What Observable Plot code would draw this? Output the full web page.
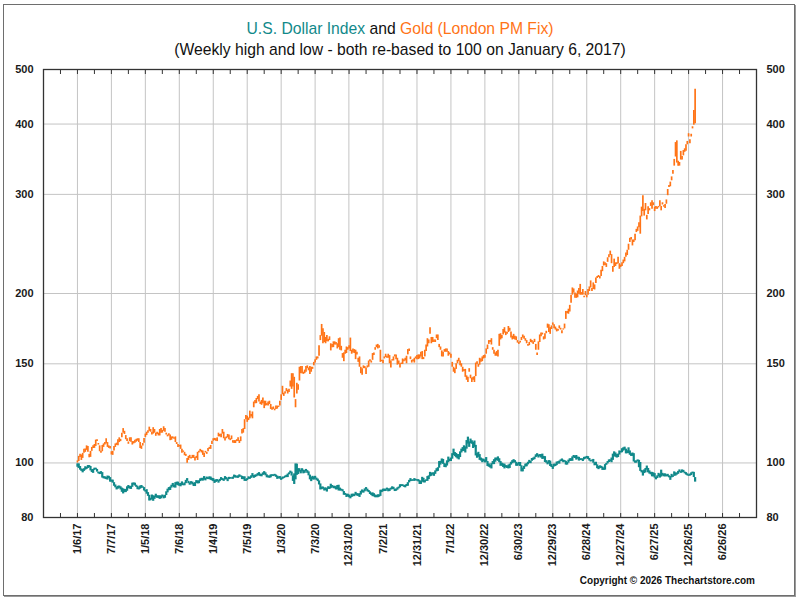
<!DOCTYPE html>
<html>
<head>
<meta charset="utf-8">
<script src="https://cdn.jsdelivr.net/npm/d3@7"></script>
<script src="https://cdn.jsdelivr.net/npm/@observablehq/plot@0.6"></script>
<style>
  html, body { margin: 0; padding: 0; background: #fff; }
  #wrap { position: relative; width: 800px; height: 600px; overflow: hidden; font-family: "Liberation Sans Narrow", "Arial Narrow", "Liberation Sans", Arial, sans-serif; }
  #border { position: absolute; left: 3px; top: 4px; width: 790px; height: 590px; border: 1px solid #6e6e6e; box-shadow: 1px 1px 0 #9a9a9a; }
  .ttl { position: absolute; left: 0; width: 800px; text-align: center; font-size: 15.7px; line-height: 18px; color: #111; white-space: nowrap; }
  #copy { position: absolute; right: 45px; top: 575px; font-size: 10px; line-height: 12px; font-weight: bold; color: #111; white-space: nowrap; }
  #chart { position: absolute; left: 0; top: 0; }
</style>
</head>
<body>
<div id="wrap">
  <div id="border"></div>
  <div id="chart"></div>
  <div class="ttl" id="t1" style="top:20px"></div>
  <div class="ttl" id="t2" style="top:41px"></div>
  <div id="copy"></div>
</div>
<script>
// ---- Text ----
const titleDollar = "U.S. Dollar Index";
const titleAnd = " and ";
const titleGold = "Gold (London PM Fix)";
const subtitle = "(Weekly high and low - both re-based to 100 on January 6, 2017)";
const copyright = "Copyright \u00A9 2026 Thechartstore.com";

// ---- Colours ----
const dollarColor = "#11898a";
const goldColor = "#ff7417";

// ---- Bases used for re-basing (value on January 6, 2017 = 100) ----
const goldBase = 1173;
const dollarBase = 103.3;

// ---- Axis ticks ----
const xTickLabels = ["1/6/17","7/7/17","1/5/18","7/6/18","1/4/19","7/5/19","1/3/20","7/3/20","12/31/20","7/2/21","12/31/21","7/1/22","12/30/22","6/30/23","12/29/23","6/28/24","12/27/24","6/27/25","12/26/25","6/26/26"];
const yTicks = [80, 100, 150, 200, 300, 400, 500];
const yGrid = [100, 150, 200, 300, 400];

// ---- Gold, London PM fix, weekly low/high pairs (USD), weeks ending Fridays ----
const gold2017 = [1173,1183, 1180,1205, 1200,1215, 1185,1212, 1195,1220, 1220,1240, 1225,1242, 1235,1258, 1225,1255, 1198,1215, 1200,1230, 1230,1250, 1245,1258, 1245,1265, 1255,1288, 1280,1290, 1262,1270, 1228,1258, 1220,1230, 1228,1260, 1250,1268, 1262,1275, 1268,1295, 1250,1275, 1245,1258, 1242,1255, 1212,1228, 1210,1230, 1232,1255, 1250,1268, 1260,1272, 1258,1290, 1275,1300, 1280,1292, 1300,1325, 1325,1350, 1318,1335, 1290,1312, 1280,1295, 1266,1278, 1280,1300, 1276,1300, 1262,1280, 1268,1280, 1272,1287, 1277,1292, 1282,1295, 1275,1295, 1245,1275, 1240,1257, 1257,1270, 1272,1297];
const gold2018 = [1302,1320, 1312,1330, 1325,1338, 1335,1358, 1330,1345, 1315,1330, 1320,1355, 1325,1345, 1308,1325, 1318,1330, 1310,1325, 1310,1345, 1325,1350, 1325,1340, 1335,1360, 1330,1350, 1315,1325, 1305,1315, 1310,1322, 1285,1315, 1287,1305, 1295,1305, 1292,1300, 1275,1305, 1265,1275, 1250,1265, 1252,1260, 1240,1262, 1220,1240, 1225,1232, 1208,1225, 1205,1215, 1172,1195, 1185,1205, 1195,1210, 1192,1200, 1195,1210, 1195,1210, 1182,1200, 1195,1205, 1185,1225, 1222,1230, 1228,1240, 1222,1235, 1210,1232, 1200,1220, 1222,1230, 1215,1225, 1228,1245, 1240,1250, 1240,1260, 1265,1282];
const gold2019 = [1282,1295, 1285,1297, 1282,1295, 1280,1300, 1305,1325, 1305,1318, 1300,1320, 1320,1345, 1295,1330, 1283,1300, 1295,1305, 1300,1318, 1290,1315, 1285,1295, 1290,1310, 1272,1285, 1270,1285, 1270,1285, 1280,1290, 1280,1300, 1270,1285, 1280,1305, 1320,1345, 1325,1350, 1345,1400, 1400,1425, 1385,1420, 1395,1410, 1405,1450, 1415,1430, 1405,1445, 1470,1505, 1495,1515, 1495,1527, 1520,1540, 1505,1550, 1490,1505, 1485,1515, 1495,1530, 1465,1510, 1480,1510, 1483,1495, 1480,1505, 1490,1510, 1460,1490, 1455,1470, 1460,1475, 1452,1462, 1460,1480, 1462,1480, 1472,1480, 1480,1510];
const gold2020 = [1515,1550, 1550,1605, 1540,1560, 1555,1570, 1570,1590, 1555,1580, 1565,1585, 1600,1640, 1585,1690, 1600,1690, 1530,1665, 1470,1520, 1555,1625, 1580,1615, 1640,1735, 1690,1740, 1690,1740, 1685,1700, 1690,1715, 1700,1740, 1725,1745, 1710,1730, 1685,1740, 1700,1735, 1720,1735, 1745,1770, 1765,1790, 1785,1810, 1795,1810, 1815,1895, 1935,1975, 1970,2067, 1910,2030, 1920,2000, 1910,1960, 1925,1975, 1925,1945, 1935,1965, 1855,1910, 1880,1905, 1880,1925, 1900,1925, 1900,1920, 1870,1910, 1880,1950, 1860,1955, 1855,1890, 1800,1835, 1775,1840, 1830,1860, 1835,1885, 1860,1880];
const gold2021 = [1870,1895, 1850,1955, 1830,1860, 1840,1870, 1835,1865, 1790,1860, 1825,1845, 1770,1800, 1735,1810, 1690,1735, 1680,1725, 1725,1745, 1725,1740, 1685,1730, 1730,1745, 1735,1780, 1775,1790, 1765,1780, 1785,1835, 1820,1840, 1860,1880, 1880,1900, 1870,1905, 1875,1895, 1770,1860, 1775,1785, 1760,1785, 1795,1810, 1805,1830, 1800,1815, 1800,1830, 1760,1820, 1730,1780, 1780,1790, 1780,1810, 1810,1825, 1790,1825, 1750,1800, 1755,1780, 1730,1760, 1755,1765, 1755,1795, 1775,1790, 1780,1800, 1760,1815, 1825,1865, 1850,1870, 1790,1810, 1765,1785, 1775,1790, 1765,1800, 1795,1810, 1790,1820];
const gold2022 = [1790,1825, 1795,1825, 1810,1845, 1790,1850, 1790,1805, 1810,1860, 1850,1900, 1885,1950, 1910,1940, 1985,2040, 1910,1960, 1920,1960, 1920,1940, 1920,1940, 1950,1980, 1935,1980, 1880,1905, 1860,1885, 1810,1855, 1810,1845, 1845,1865, 1845,1870, 1845,1870, 1815,1850, 1825,1840, 1800,1830, 1735,1770, 1700,1735, 1690,1725, 1720,1760, 1760,1785, 1775,1800, 1745,1780, 1735,1760, 1700,1735, 1705,1720, 1665,1720, 1645,1675, 1630,1665, 1700,1725, 1655,1680, 1630,1660, 1645,1665, 1630,1670, 1670,1765, 1755,1775, 1735,1755, 1750,1800, 1770,1795, 1775,1810, 1795,1820, 1800,1825];
const gold2023 = [1830,1870, 1865,1900, 1905,1935, 1920,1935, 1900,1950, 1860,1880, 1830,1860, 1815,1840, 1815,1850, 1810,1860, 1890,1985, 1940,1990, 1950,1975, 1980,2025, 1995,2040, 1975,2005, 1985,2000, 2000,2050, 2010,2035, 1955,2005, 1940,1970, 1945,1985, 1940,1970, 1935,1965, 1915,1935, 1905,1920, 1915,1930, 1935,1960, 1955,1980, 1945,1970, 1930,1950, 1910,1935, 1890,1905, 1895,1920, 1920,1945, 1915,1935, 1905,1925, 1920,1945, 1860,1905, 1820,1840, 1860,1925, 1920,1980, 1965,1995, 1980,1995, 1940,1965, 1945,1990, 1990,2010, 2035,2070, 2000,2065, 1985,2040, 2025,2055, 2060,2080];
const gold2024 = [2030,2065, 2020,2045, 2005,2030, 2010,2025, 2030,2055, 2020,2035, 1990,2015, 2020,2030, 2030,2070, 2110,2180, 2160,2180, 2155,2200, 2175,2235, 2255,2330, 2330,2400, 2350,2390, 2300,2350, 2300,2340, 2305,2370, 2340,2395, 2330,2435, 2330,2355, 2330,2385, 2305,2320, 2325,2365, 2305,2330, 2330,2385, 2365,2410, 2400,2470, 2365,2395, 2385,2450, 2380,2430, 2445,2500, 2495,2515, 2505,2525, 2490,2515, 2515,2580, 2565,2620, 2625,2670, 2630,2660, 2610,2650, 2665,2715, 2715,2750, 2740,2790, 2650,2750, 2560,2620, 2610,2700, 2620,2660, 2640,2660, 2650,2720, 2590,2650, 2610,2635];
const gold2025 = [2620,2660, 2650,2690, 2670,2720, 2720,2770, 2740,2800, 2800,2870, 2890,2940, 2920,2950, 2850,2920, 2890,2920, 2910,2990, 3010,3050, 3025,3080, 3070,3135, 2990,3220, 3210,3340, 3280,3500, 3220,3310, 3290,3390, 3170,3230, 3240,3345, 3290,3320, 3350,3400, 3310,3430, 3360,3400, 3280,3340, 3310,3350, 3310,3340, 3330,3350, 3350,3430, 3290,3350, 3370,3400, 3340,3360, 3320,3375, 3380,3440, 3500,3590, 3620,3650, 3630,3700, 3720,3780, 3820,3880, 3950,4060, 4100,4350, 4000,4380, 3950,4030, 3950,4010, 4050,4195, 4050,4110, 4120,4210, 4180,4240, 4200,4310, 4310,4370, 4450,4510];
const gold2026 = [4330,4400, 4450,4500, 4600,4640, 4670,4960, 4700,5410];

// ---- U.S. Dollar Index, weekly low/high pairs ----
const dollar2017 = [101.5,102.9, 101.0,102.9, 100.3,101.8, 99.8,100.8, 99.2,100.6, 99.8,100.9, 100.3,101.7, 100.6,101.5, 101.0,102.2, 101.3,102.2, 100.0,101.8, 99.3,100.5, 99.0,100.6, 100.2,101.1, 100.5,101.1, 99.5,100.6, 98.8,99.5, 98.5,99.4, 98.6,99.7, 97.1,99.3, 96.8,97.7, 96.7,97.6, 96.5,97.3, 96.3,97.9, 96.9,97.8, 95.5,97.3, 95.5,96.3, 95.1,96.3, 93.9,95.3, 93.3,94.4, 92.5,93.6, 92.8,93.9, 93.1,94.0, 92.5,93.7, 91.6,93.2, 91.0,92.9, 91.5,92.7, 91.5,92.7, 92.0,93.7, 93.0,94.2, 92.8,93.8, 92.7,93.9, 93.5,95.1, 94.3,95.2, 94.0,95.1, 93.5,94.3, 92.6,93.9, 92.5,93.3, 92.8,94.0, 93.1,94.2, 93.2,93.7, 92.1,93.4];
const dollar2018 = [91.7,92.3, 90.9,92.6, 90.1,91.5, 88.4,90.5, 88.5,89.4, 88.9,90.6, 88.3,90.3, 89.0,90.2, 89.6,90.9, 89.4,90.3, 89.3,90.3, 89.0,90.3, 89.2,90.2, 89.8,90.6, 89.2,90.3, 89.4,90.5, 90.4,91.8, 91.4,92.8, 92.2,93.4, 92.3,93.6, 93.2,94.3, 93.7,95.0, 93.3,94.3, 93.2,95.3, 94.3,95.5, 94.1,95.5, 93.9,94.9, 93.7,95.0, 94.2,95.6, 94.1,94.8, 94.1,95.2, 94.9,96.2, 95.8,96.9, 94.9,95.8, 94.3,95.2, 94.8,95.7, 94.4,95.5, 93.8,95.0, 93.8,95.3, 95.0,96.1, 94.8,96.0, 94.9,96.0, 95.7,96.8, 96.0,97.0, 95.9,97.0, 96.3,97.7, 96.0,97.0, 96.6,97.5, 96.5,97.2, 96.5,97.6, 96.2,97.5, 96.0,97.0];
const dollar2019 = [95.7,96.9, 95.0,96.3, 95.4,96.4, 95.7,96.5, 95.1,96.1, 95.7,96.6, 96.2,97.3, 96.1,96.9, 95.8,96.7, 96.4,97.7, 96.4,97.3, 95.7,96.8, 96.5,97.4, 96.7,97.3, 96.7,97.2, 96.6,97.5, 97.2,98.3, 97.1,98.1, 97.1,97.7, 97.0,98.0, 97.4,98.4, 97.5,98.0, 96.5,97.8, 96.5,97.6, 95.8,97.6, 95.8,96.5, 96.1,96.9, 96.6,97.6, 96.6,97.4, 97.0,98.0, 97.5,98.9, 97.0,98.1, 97.3,98.3, 97.6,98.4, 97.9,98.9, 98.0,99.3, 97.7,98.7, 97.6,98.6, 98.2,99.2, 98.4,99.7, 98.0,99.2, 97.2,98.4, 97.2,97.9, 97.0,98.0, 97.2,98.4, 97.8,98.4, 97.7,98.4, 97.9,98.6, 97.4,98.3, 96.6,97.9, 96.8,97.6, 96.7,97.7];
const dollar2020 = [96.2,97.0, 96.6,97.5, 96.9,97.5, 97.2,97.9, 97.3,98.2, 97.3,98.7, 98.4,99.2, 99.0,99.9, 97.9,99.5, 95.8,98.0, 94.6,98.8, 96.4,102.9, 98.2,102.8, 98.5,100.9, 99.5,100.9, 98.8,100.2, 99.6,100.9, 98.8,100.3, 99.0,100.1, 99.7,100.6, 99.0,100.1, 98.0,99.6, 96.4,98.3, 95.7,97.4, 96.4,97.8, 96.3,97.5, 96.7,97.8, 96.2,97.1, 95.7,96.7, 94.4,96.0, 92.5,94.8, 92.6,93.6, 92.8,93.6, 92.1,93.2, 92.2,93.3, 91.7,93.0, 92.7,93.7, 92.7,93.6, 93.0,94.7, 93.5,94.2, 93.0,93.9, 92.9,93.9, 92.5,93.7, 92.6,94.2, 92.1,94.3, 92.1,93.2, 92.1,92.8, 91.8,92.6, 90.5,91.9, 90.5,91.2, 89.7,90.9, 89.9,90.9];
const dollar2021 = [89.6,90.6, 89.2,90.2, 89.7,90.9, 90.0,90.9, 90.0,90.9, 90.5,91.6, 90.2,91.1, 90.1,91.0, 89.7,91.1, 90.6,92.0, 91.4,92.5, 91.3,92.2, 91.8,92.9, 92.5,93.4, 91.8,92.8, 91.5,92.3, 90.8,91.8, 90.4,91.3, 90.0,91.4, 89.9,91.1, 89.6,90.6, 89.6,90.4, 89.6,90.7, 89.8,90.6, 90.1,92.4, 91.5,92.4, 91.8,92.8, 91.9,92.8, 91.9,92.8, 92.5,93.2, 91.8,92.9, 91.9,92.9, 92.5,93.2, 92.6,93.7, 92.6,93.5, 91.9,92.8, 92.0,92.8, 92.4,93.3, 92.9,93.6, 93.3,94.5, 93.8,94.5, 93.8,94.5, 93.5,94.1, 93.3,94.3, 93.8,94.6, 93.9,95.3, 95.2,96.2, 95.7,96.9, 95.8,96.4, 95.9,96.4, 95.8,96.9, 96.0,96.6, 95.9,96.4];
const dollar2022 = [95.6,96.5, 94.6,96.1, 94.6,95.8, 95.5,97.4, 95.2,97.0, 95.2,96.1, 95.8,96.4, 95.8,97.7, 96.5,98.0, 97.6,99.4, 97.8,99.1, 98.3,99.2, 97.8,99.2, 98.6,100.0, 99.6,100.9, 99.8,101.3, 101.1,103.9, 102.4,104.0, 103.1,105.0, 102.7,104.8, 101.4,103.0, 101.3,102.8, 102.0,104.2, 103.4,105.8, 103.9,104.9, 103.9,105.4, 104.9,107.3, 106.5,109.3, 106.0,107.8, 105.5,107.4, 105.0,106.9, 104.6,106.9, 105.6,108.1, 107.6,109.3, 108.2,110.0, 108.3,110.8, 107.6,110.3, 109.3,113.2, 111.6,114.8, 110.1,112.6, 111.8,113.9, 111.5,113.1, 109.6,112.3, 110.1,113.0, 106.3,111.0, 105.3,107.3, 105.7,107.9, 104.4,106.9, 104.1,105.4, 103.4,105.0, 103.8,104.9, 103.3,104.5];
const dollar2023 = [103.6,105.6, 101.8,103.9, 101.5,102.9, 101.2,102.3, 100.8,103.0, 102.6,103.9, 102.6,104.7, 103.6,105.4, 104.3,105.4, 104.0,105.9, 103.4,105.1, 101.9,103.9, 101.9,103.2, 101.4,102.9, 100.8,102.8, 101.3,102.2, 101.0,102.0, 100.8,102.4, 101.0,102.8, 102.4,103.6, 103.0,104.3, 103.3,104.7, 103.3,104.3, 101.9,103.6, 101.9,103.0, 102.4,103.5, 101.8,103.5, 99.6,102.1, 99.6,101.1, 100.6,101.9, 101.6,102.8, 101.7,103.0, 102.5,103.6, 103.1,104.4, 103.0,104.0, 104.0,105.2, 104.4,105.4, 104.7,105.8, 105.6,106.8, 106.0,107.3, 105.4,106.7, 105.9,106.9, 105.4,106.9, 104.8,107.1, 104.9,106.1, 103.5,106.0, 103.2,104.3, 102.5,103.7, 102.9,104.3, 101.8,104.1, 101.4,102.7, 100.6,101.9];
const dollar2024 = [101.6,102.8, 101.8,102.8, 102.2,103.7, 102.9,103.8, 102.8,104.1, 103.8,104.6, 103.9,105.0, 103.4,104.5, 103.6,104.3, 102.4,104.0, 102.4,103.5, 103.2,104.5, 103.9,105.1, 104.0,105.1, 104.0,105.9, 105.4,106.5, 105.2,106.2, 104.5,106.5, 104.9,105.8, 104.1,105.7, 104.3,105.1, 104.4,105.1, 103.9,105.0, 104.6,105.7, 104.9,105.8, 105.3,106.1, 104.8,106.0, 104.1,105.2, 103.7,104.4, 104.0,104.5, 103.2,104.8, 102.1,103.4, 102.2,103.6, 100.9,102.5, 100.5,101.8, 100.9,102.1, 101.0,101.9, 100.2,101.6, 100.2,101.2, 100.3,102.6, 102.3,103.1, 102.9,103.9, 103.5,104.6, 103.8,104.6, 103.4,105.4, 104.4,107.1, 106.0,108.1, 105.7,107.6, 105.4,106.9, 105.6,107.1, 106.7,108.5, 107.6,108.3];
const dollar2025 = [107.7,109.5, 108.4,109.9, 108.8,110.2, 107.2,109.3, 107.3,108.6, 107.3,109.9, 106.6,108.5, 106.1,107.3, 106.1,107.6, 103.7,107.3, 103.2,104.1, 103.2,104.2, 103.8,104.6, 101.3,104.4, 99.8,103.5, 99.2,100.2, 97.9,99.9, 98.9,100.4, 99.2,101.0, 100.3,102.0, 99.2,101.0, 98.7,100.0, 98.4,99.4, 97.6,99.4, 97.6,99.2, 97.1,98.9, 96.4,97.4, 96.9,98.0, 97.6,99.0, 97.1,98.6, 97.5,100.3, 97.9,99.0, 97.6,98.7, 97.6,98.8, 97.6,98.4, 97.6,98.6, 97.2,98.0, 96.2,97.7, 97.2,98.6, 97.4,98.0, 97.8,99.6, 97.9,99.2, 98.3,99.1, 98.6,99.8, 99.4,100.4, 99.0,99.7, 99.2,100.4, 99.3,100.2, 98.8,99.5, 98.3,99.3, 98.0,98.8, 97.8,98.4];
const dollar2026 = [97.9,98.7, 98.1,99.2, 98.8,99.5, 97.3,99.4, 95.5,97.3];

// ---- Build the tables (one row per week ending Friday) ----
const years = [2017,2018,2019,2020,2021,2022,2023,2024,2025,2026];
const goldYears = [gold2017,gold2018,gold2019,gold2020,gold2021,gold2022,gold2023,gold2024,gold2025,gold2026];
const dollarYears = [dollar2017,dollar2018,dollar2019,dollar2020,dollar2021,dollar2022,dollar2023,dollar2024,dollar2025,dollar2026];

function buildWeekly(chunks, base) {
  const rows = [];
  chunks.forEach((pairs, k) => {
    const firstFriday = d3.utcFriday.ceil(new Date(Date.UTC(years[k], 0, 1)));
    for (let j = 0; j * 2 < pairs.length; j++) {
      rows.push({
        date: d3.utcDay.offset(firstFriday, 7 * j),
        lo: pairs[2 * j] / base * 100,
        hi: pairs[2 * j + 1] / base * 100
      });
    }
  });
  return rows;
}
const goldRows = buildWeekly(goldYears, goldBase);
const dollarRows = buildWeekly(dollarYears, dollarBase);

const parseLabel = d3.utcParse("%m/%d/%y");
const xTicks = xTickLabels.map(parseLabel);
const xStart = d3.utcDay.offset(xTicks[0], -182);
const xEnd = d3.utcDay.offset(xTicks[xTicks.length - 1], 182);
const minorTicks = d3.range(0, 43).map(k => d3.utcDay.offset(xStart, 91 * k));
const labelOf = d => xTickLabels[xTicks.findIndex(t => +t === +d)];

const font = '"Liberation Sans Narrow", "Arial Narrow", "Liberation Sans", Arial, sans-serif';

const chart = Plot.plot({
  width: 800,
  height: 600,
  marginLeft: 43,
  marginRight: 44,
  marginTop: 69,
  marginBottom: 83,
  x: { type: "utc", domain: [xStart, xEnd] },
  y: { type: "log", domain: [80, 500] },
  style: { fontFamily: font, fontSize: "11px", color: "#1a1a1a", background: "transparent" },
  marks: [
    Plot.gridX(xTicks, { stroke: "#c4c4c4", strokeOpacity: 1, strokeWidth: 1 }),
    Plot.gridY(yGrid, { stroke: "#c4c4c4", strokeOpacity: 1, strokeWidth: 1 }),
    Plot.ruleX(goldRows, { x: "date", y1: "lo", y2: "hi", stroke: goldColor, strokeWidth: 1.7 }),
    Plot.ruleX(dollarRows, { x: "date", y1: "lo", y2: "hi", stroke: dollarColor, strokeWidth: 2.2 }),
    Plot.frame({ stroke: "#333", strokeWidth: 1.3 }),
    Plot.axisX(minorTicks, { anchor: "bottom", tickSize: 4, dy: -4, tickFormat: () => "", label: null, stroke: "#333" }),
    Plot.axisX(minorTicks, { anchor: "top", tickSize: 4, dy: 4, tickFormat: () => "", label: null, stroke: "#333" }),
    Plot.axisX(xTicks, { anchor: "bottom", tickSize: 0, tickPadding: 6, tickRotate: -90, tickFormat: labelOf, label: null, fontSize: 11, fontWeight: "bold" }),
    Plot.axisY(yTicks, { anchor: "left", tickSize: 0, tickPadding: 10, tickFormat: d => String(d), label: null, fontSize: 11, fontWeight: "bold" }),
    Plot.axisY(yTicks, { anchor: "right", tickSize: 0, tickPadding: 10, tickFormat: d => String(d), label: null, fontSize: 11, fontWeight: "bold" })
  ]
});
document.getElementById("chart").appendChild(chart);

// ---- Titles ----
const t1 = document.getElementById("t1");
const s1 = document.createElement("span"); s1.style.color = dollarColor; s1.textContent = titleDollar;
const s2 = document.createElement("span"); s2.style.color = "#111"; s2.textContent = titleAnd;
const s3 = document.createElement("span"); s3.style.color = goldColor; s3.textContent = titleGold;
t1.append(s1, s2, s3);
document.getElementById("t2").textContent = subtitle;
document.getElementById("copy").textContent = copyright;
</script>
</body>
</html>
